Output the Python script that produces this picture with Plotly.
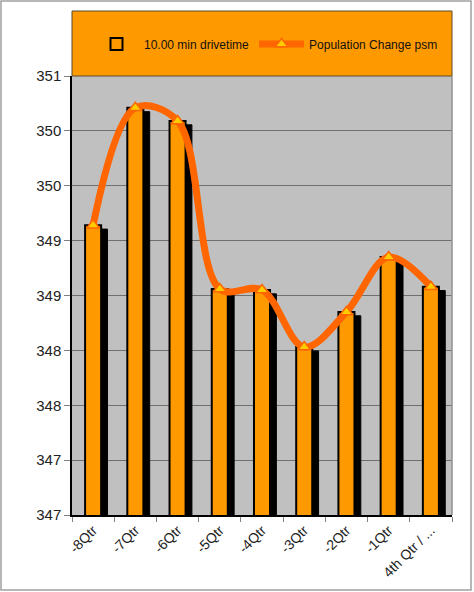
import plotly.graph_objects as go

categories = ["-8Qtr", "-7Qtr", "-6Qtr", "-5Qtr", "-4Qtr", "-3Qtr", "-2Qtr", "-1Qtr", "4th Qtr / ..."]
drivetime = [349.64, 350.71, 350.59, 349.06, 349.05, 348.53, 348.85, 349.35, 349.08]
pop_change = [349.64, 350.71, 350.59, 349.06, 349.05, 348.53, 348.85, 349.35, 349.08]
tick_vals = [347.0, 347.5, 348.0, 348.5, 349.0, 349.5, 350.0, 350.5, 351.0]
tick_text = ["347", "347", "348", "348", "349", "349", "350", "350", "351"]

FONT = "Liberation Sans, Arial, sans-serif"

fig = go.Figure()
# depth shadow of the bars
fig.add_trace(go.Bar(
    x=categories, y=[v - 0.035 for v in drivetime],
    offset=-0.04, width=0.38,
    marker=dict(color="black", line=dict(color="black", width=1)),
    showlegend=False, hoverinfo="skip",
))
fig.add_trace(go.Bar(
    x=categories, y=drivetime, name="10.00 min drivetime",
    offset=-0.19, width=0.38,
    marker=dict(color="#FF9900", line=dict(color="black", width=2)),
))
fig.add_trace(go.Scatter(
    x=categories, y=pop_change, name="Population Change psm",
    mode="lines+markers",
    line=dict(color="#FF6600", width=7, shape="spline", smoothing=1.0),
    marker=dict(symbol="triangle-up", size=11, color="#FFCC00",
                line=dict(color="#FF6600", width=1.5)),
))

L, R, T, B = 72, 22, 76, 77
W, H = 474, 592
pw, ph = W - L - R, H - T - B

def px_x(p):
    return (p - L) / pw

def px_y(p):
    return (H - B - p) / ph

fig.update_layout(
    width=W, height=H,
    margin=dict(l=L, r=R, t=T, b=B, autoexpand=False),
    paper_bgcolor="white",
    plot_bgcolor="#C0C0C0",
    barmode="overlay",
    font=dict(family=FONT, color="#222222", size=13),
    showlegend=True,
    legend=dict(orientation="h", x=px_x(266), xanchor="center", y=px_y(44), yanchor="middle",
                bgcolor="rgba(0,0,0,0)", font=dict(size=12, color="#111111"),
                traceorder="normal", itemwidth=45),
    shapes=[
        dict(type="rect", xref="paper", yref="paper",
             x0=0, x1=1, y0=1, y1=px_y(11),
             fillcolor="#FF9900", line=dict(color="#5a4a2a", width=1), layer="below"),
        dict(type="rect", xref="paper", yref="paper",
             x0=px_x(1), x1=px_x(471), y0=px_y(590), y1=px_y(1),
             fillcolor="rgba(0,0,0,0)", line=dict(color="#A0A0A0", width=1.5)),
        dict(type="line", xref="paper", yref="paper",
             x0=1, x1=1, y0=0, y1=1, line=dict(color="#909090", width=1.5)),
    ],
    hovermode=False,
)
fig.update_yaxes(
    range=[347, 351], tickvals=tick_vals, ticktext=tick_text,
    showgrid=True, gridcolor="#707070", gridwidth=1,
    ticks="outside", ticklen=6, tickcolor="#808080",
    showline=True, linecolor="black", linewidth=1.5,
    tickfont=dict(size=15), zeroline=False,
)
fig.update_xaxes(
    tickangle=-45, ticks="outside", ticklen=5, tickcolor="#808080",
    tickson="boundaries",
    showline=True, linecolor="black", linewidth=1.5,
    tickfont=dict(size=14), showgrid=False,
    range=[-0.5, 8.5],
)

fig.write_html("out.html", config={"displayModeBar": False},
               post_script="document.body.style.margin='0';document.body.style.overflow='hidden';")
